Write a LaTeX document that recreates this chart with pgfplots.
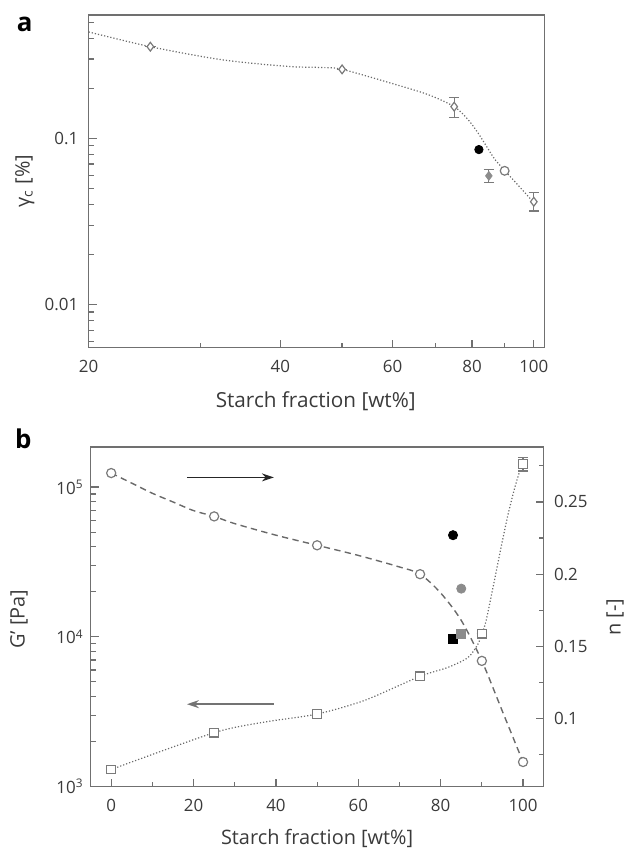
\documentclass[border=0pt]{standalone}
\usepackage{pgfplots}
\pgfplotsset{compat=1.18}
\usepackage{fontspec}
\setmainfont{Open Sans}
\usetikzlibrary{arrows.meta}
\definecolor{axgray}{HTML}{707070}
\definecolor{txt}{HTML}{3A3A3A}
\definecolor{mk}{HTML}{7A7A7A}
\definecolor{fillgray}{HTML}{8C8C8C}
\definecolor{curve}{HTML}{6A6A6A}

\begin{document}
\begin{tikzpicture}
\path (0pt,0pt) rectangle (314.5pt,-427pt);
\pgfplotsset{
  common/.style={
    scale only axis,
    axis line style={axgray, line width=0.7pt},
    every tick/.style={axgray, line width=0.6pt},
    major tick length=4pt, minor tick length=2.5pt,
    tick align=inside,
    ticklabel style={font=\fontsize{8.5}{10}\selectfont, text=txt},
    xticklabel style={yshift=-3pt},
    label style={font=\fontsize{10}{12}\selectfont, text=txt},
    /pgf/number format/assume math mode=true,
    clip=false,
  },
  emark/.style={mark options={draw=mk, fill=white, line width=0.6pt}},
  ebar/.style={error bars/.cd, y dir=both, y explicit,
     error bar style={mk, line width=0.6pt},
     error mark options={rotate=90, mk, mark size=2.6pt, line width=0.6pt}},
}

\node[anchor=base west, font=\fontsize{13}{15}\selectfont\bfseries, text=black] at (5pt,-16pt) {a};
\node[anchor=base west, font=\fontsize{13}{15}\selectfont\bfseries, text=black] at (4pt,-225pt) {b};

% ---------------- panel a ----------------
\begin{axis}[common, at={(44.5pt,-174.5pt)}, anchor=south west,
  width=229pt, height=167pt,
  xmode=log, ymode=log,
  xmin=20, xmax=104, ymin=0.0055, ymax=0.553,
  xtick={20,40,60,80,100}, xticklabels={20,40,60,80,100},
  minor xtick={30,50,70,90},
  ytick={0.01,0.1}, yticklabels={0.01,0.1},
  minor ytick={0.006,0.007,0.008,0.009,0.02,0.03,0.04,0.05,0.06,0.07,0.08,0.09,0.2,0.3,0.4,0.5},
  xtick pos=bottom, ytick pos=left,
  yticklabel style={xshift=-1.7pt},
  xlabel={Starch fraction [wt\%]},
  xlabel style={at={(axis description cs:0.498,-0.162)}, anchor=center, font=\fontsize{10.4}{12}\selectfont},
  ylabel={γ\textsubscript{c} [\%]},
  ylabel style={at={(axis description cs:-0.14,0.5)}, anchor=center},
]
\addplot[densely dotted, curve, line width=0.6pt, smooth, tension=0.5] coordinates {
 (20,0.437) (25,0.356) (32.4,0.297) (41,0.271) (46,0.267) (50,0.260) (60.6,0.211)
 (68.3,0.183) (75,0.155) (78.8,0.130) (81.7,0.108) (84.2,0.090) (86.8,0.075)
 (90,0.064) (95,0.051) (100,0.041)};
\addplot[only marks, mark=diamond*, mark size=2.2pt, emark, ebar] table[y error plus=ep, y error minus=em] {
x y ep em
25 0.356 0 0
50 0.260 0 0
75 0.155 0.021 0.021
100 0.0415 0.0054 0.005
};
\addplot[only marks, mark=*, mark size=2.2pt, emark] coordinates {(90,0.0637)};
\addplot[only marks, mark=*, mark size=2.1pt, mark options={draw=black, fill=black}] coordinates {(82,0.0855)};
\addplot[only marks, mark=diamond*, mark size=2.2pt, mark options={draw=fillgray, fill=fillgray}, ebar] table[y error plus=ep, y error minus=em] {
x y ep em
85 0.0594 0.0058 0.0051
};
\end{axis}

% ---------------- panel b (left: G') ----------------
\begin{axis}[common, at={(45.5pt,-395pt)}, anchor=south west,
  width=227.5pt, height=170.5pt,
  ymode=log,
  xmin=-5, xmax=105, ymin=1000, ymax=185000,
  xtick={0,20,40,60,80,100}, minor xtick={10,30,50,70,90},
  ytick={1000,10000,100000},
  yticklabels={10\textsuperscript{3},10\textsuperscript{4},10\textsuperscript{5}},
  xtick pos=bottom, ytick pos=left,
  xlabel={Starch fraction [wt\%]},
  xlabel style={at={(axis description cs:0.5,-0.152)}, anchor=center},
  ylabel={G' [Pa]},
  ylabel style={at={(axis description cs:-0.158,0.493)}, anchor=center},
]
\addplot[densely dotted, curve, line width=0.6pt, smooth, tension=0.45] coordinates {
 (0,1300) (25,2290) (37.4,2700) (50,3050) (61.6,3770) (75,5450) (81.7,6240) (86.6,7260)
 (89,8890) (90,10500) (91,12700) (93,23400) (94.6,38800) (96.3,64500)
 (97.9,97000) (99.1,125000) (100,142000)};
\addplot[only marks, mark=square*, mark size=2.2pt, emark, ebar] table[y error plus=ep, y error minus=em] {
x y ep em
0 1300 0 0
25 2290 0 0
50 3050 0 0
75 5450 0 0
90 10500 0 0
100 142000 16000 14000
};
\addplot[only marks, mark=square*, mark size=2.2pt, mark options={draw=black, fill=black}] coordinates {(83,9700)};
\addplot[only marks, mark=square*, mark size=2.2pt, mark options={draw=fillgray, fill=fillgray}] coordinates {(85,10500)};
\draw[-{Stealth[length=6pt,width=4pt]}, color=black!85, line width=0.7pt] (axis cs:18.4,116000) -- (axis cs:39.5,116000);
\draw[-{Stealth[length=6pt,width=4pt]}, color=black!55, line width=0.9pt] (axis cs:39.5,3550) -- (axis cs:18.4,3550);
\end{axis}

% ---------------- panel b (right: n) ----------------
\begin{axis}[common, at={(45.5pt,-395pt)}, anchor=south west,
  width=227.5pt, height=170.5pt,
  xmin=-5, xmax=105, ymin=0.053, ymax=0.288,
  xtick=\empty,
  ytick={0.1,0.15,0.2,0.25}, yticklabels={0.1,0.15,0.2,0.25},
  minor ytick={0.075,0.125,0.175,0.225,0.275},
  ytick pos=right,
  yticklabel style={xshift=1.7pt},
  ylabel={n [-]},
  ylabel style={at={(axis description cs:1.158,0.499)}, anchor=center},
]
\addplot[dashed, dash pattern=on 3.2pt off 2.2pt, curve, line width=0.7pt, smooth, tension=0.5] coordinates {
 (0,0.270) (5,0.263) (10,0.256) (15,0.250) (20,0.244) (25,0.240) (30,0.235) (40,0.227)
 (50,0.220) (60,0.213) (70,0.205) (75,0.200) (80,0.187) (85,0.168) (90,0.140)
 (95,0.105) (100,0.070)};
\addplot[only marks, mark=*, mark size=2.3pt, emark] coordinates {
 (0,0.270) (25,0.240) (50,0.220) (75,0.200) (90,0.140) (100,0.070)};
\addplot[only marks, mark=*, mark size=2.3pt, mark options={draw=black, fill=black}] coordinates {(83,0.227)};
\addplot[only marks, mark=*, mark size=2.3pt, mark options={draw=fillgray, fill=fillgray}] coordinates {(85,0.190)};
\end{axis}
\end{tikzpicture}
\end{document}
